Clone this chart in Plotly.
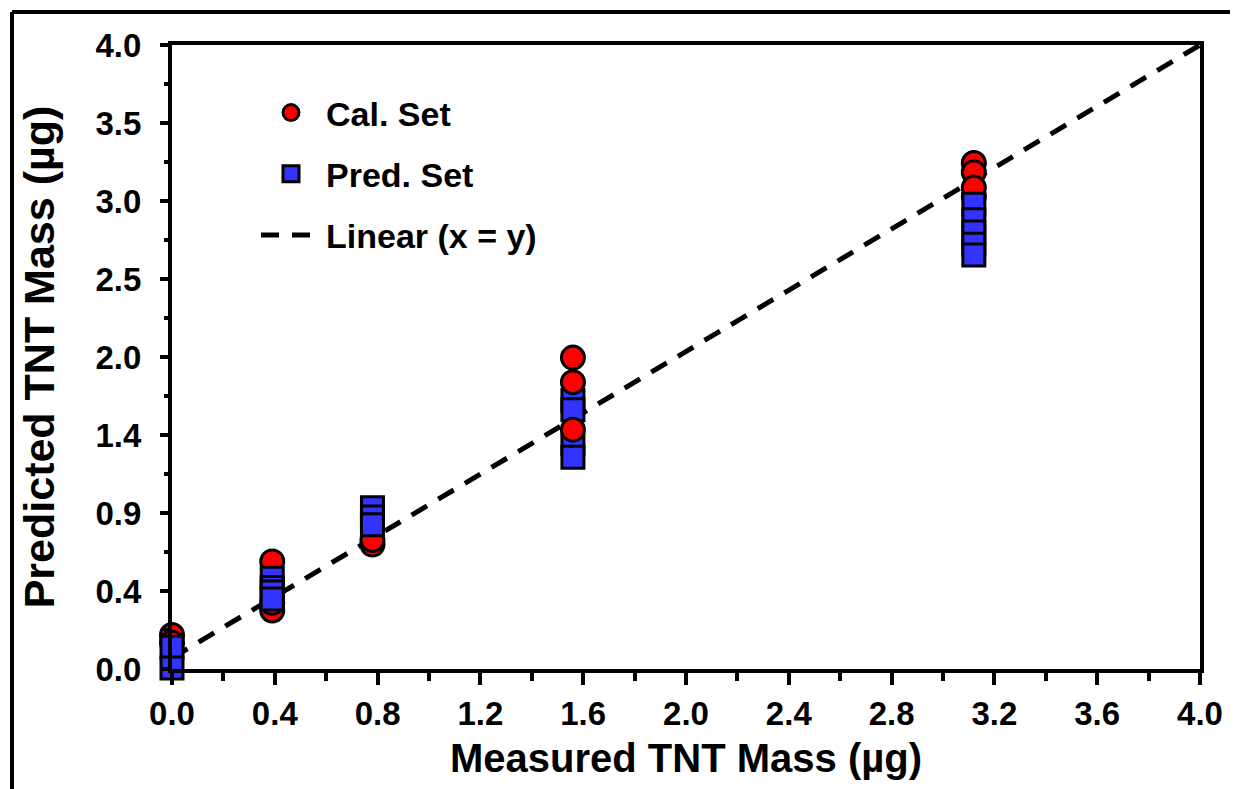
import plotly.graph_objects as go

# ---------------- data ----------------
cal_x_under = [0.0, 0.0, 0.39, 0.39, 0.39, 0.78, 0.78, 3.12, 3.12, 3.12, 3.12]
cal_y_under = [0.15, 0.10, 0.63, 0.31, 0.36, 0.74, 0.77, 3.23, 3.17, 3.01, 3.07]
cal_x_over = [1.56, 1.56, 1.56]
cal_y_over = [1.96, 1.80, 1.49]

pred_x = [0.0, 0.0, 0.39, 0.39, 0.39, 0.39, 0.78, 0.78, 0.78,
          1.56, 1.56, 1.56, 1.56, 3.12, 3.12, 3.12, 3.12, 3.12]
pred_y = [0.07, -0.065, 0.52, 0.46, 0.43, 0.385, 0.98, 0.92, 0.87,
          1.68, 1.62, 1.40, 1.31, 2.96, 2.86, 2.78, 2.70, 2.63]

line_x = [0.0, 4.0]
line_y = [0.0, 4.0]

y_tick_labels = ["0.0", "0.4", "0.9", "1.4", "2.0", "2.5", "3.0", "3.5", "4.0"]

# ---------------- styling ----------------
FONT = "Liberation Sans, Arial, sans-serif"
RED = "#FF0000"
BLUE = "#3333FF"

y_min, y_max = -0.072, 4.0
n = len(y_tick_labels) - 1
step = (y_max - y_min) / n
y_tickvals = [y_min + i * step for i in range(n + 1)]
y_minor = [y_min + (i + 0.5) * step for i in range(n)]

fig = go.Figure()

fig.add_trace(go.Scatter(
    x=line_x, y=line_y, mode="lines", name="Linear (x = y)",
    line=dict(color="black", width=5, dash="18px,13px"),
    legendgroup="c", legendrank=3, cliponaxis=False,
))
fig.add_trace(go.Scatter(
    x=cal_x_under, y=cal_y_under, mode="markers", name="Cal. Set",
    marker=dict(symbol="circle", size=23, color=RED, line=dict(color="black", width=3)),
    legendgroup="a", legendrank=1, cliponaxis=False,
))
fig.add_trace(go.Scatter(
    x=pred_x, y=pred_y, mode="markers", name="Pred. Set",
    marker=dict(symbol="square", size=22, color=BLUE, line=dict(color="black", width=3)),
    legendgroup="b", legendrank=2, cliponaxis=False,
))
fig.add_trace(go.Scatter(
    x=cal_x_over, y=cal_y_over, mode="markers", name="Cal. Set",
    marker=dict(symbol="circle", size=23, color=RED, line=dict(color="black", width=3)),
    legendgroup="a", showlegend=False, cliponaxis=False,
))

# The page shows the figure with an 8 px offset (body margin), so the
# figure is laid out in page pixels minus that offset.
OFF = 8
W, H = 1238 - OFF, 789 - OFF
L, T = 172 - OFF, 45 - OFF
R = W - (1200 - OFF)
B = H - (669 - OFF)
pw, ph = W - L - R, H - T - B

def px_x(p):
    return (p - OFF - L) / pw

def px_y(p):
    return (H - B - (p - OFF)) / ph

fig.update_layout(
    width=W, height=H,
    margin=dict(l=L, r=R, t=T, b=B),
    paper_bgcolor="white", plot_bgcolor="white",
    font=dict(family=FONT, color="black", size=24, weight="bold"),
    showlegend=True,
    legend=dict(
        x=px_x(256), y=px_y(84), xanchor="left", yanchor="top",
        bgcolor="rgba(0,0,0,0)", borderwidth=0,
        font=dict(family=FONT, size=34, color="black", weight="bold"),
        itemwidth=60, traceorder="grouped", tracegroupgap=14,
    ),
    xaxis=dict(
        range=[0, 4], tickmode="array",
        tickvals=[0, 0.4, 0.8, 1.2, 1.6, 2.0, 2.4, 2.8, 3.2, 3.6, 4.0],
        tickformat=".1f",
        showline=True, linecolor="black", linewidth=4, mirror=True,
        ticks="outside", ticklen=12, tickwidth=4, tickcolor="black",
        minor=dict(tickvals=[0.2, 0.6, 1.0, 1.4, 1.8, 2.2, 2.6, 3.0, 3.4, 3.8],
                   ticks="outside", ticklen=8, tickwidth=4, tickcolor="black"),
        showgrid=False, zeroline=False,
        tickfont=dict(family=FONT, size=33, color="black", weight="bold"),
        title=dict(text="Measured TNT Mass (µg)", standoff=14,
                   font=dict(family=FONT, size=40, color="black", weight="bold")),
    ),
    yaxis=dict(
        range=[y_min, y_max], tickmode="array",
        tickvals=y_tickvals, ticktext=y_tick_labels,
        showline=True, linecolor="black", linewidth=4, mirror=True,
        ticks="outside", ticklen=8, tickwidth=4, tickcolor="black",
        minor=dict(tickvals=y_minor, ticks="outside", ticklen=4, tickwidth=4,
                   tickcolor="black"),
        showgrid=False, zeroline=False,
        ticklabelstandoff=12,
        tickfont=dict(family=FONT, size=33, color="black", weight="bold"),
        title=dict(text="Predicted TNT Mass (µg)", standoff=28,
                   font=dict(family=FONT, size=43, color="black", weight="bold")),
    ),
    shapes=[
        dict(type="line", xref="paper", yref="paper",
             x0=px_x(12), x1=px_x(12), y0=px_y(12), y1=px_y(800),
             line=dict(color="black", width=4)),
        dict(type="line", xref="paper", yref="paper",
             x0=px_x(12), x1=px_x(1235), y0=px_y(12), y1=px_y(12),
             line=dict(color="black", width=4)),
        dict(type="line", xref="paper", yref="paper",
             x0=px_x(1235), x1=px_x(1235), y0=px_y(12), y1=px_y(800),
             line=dict(color="#888888", width=2)),
    ],
)

fig.write_html("out.html")
